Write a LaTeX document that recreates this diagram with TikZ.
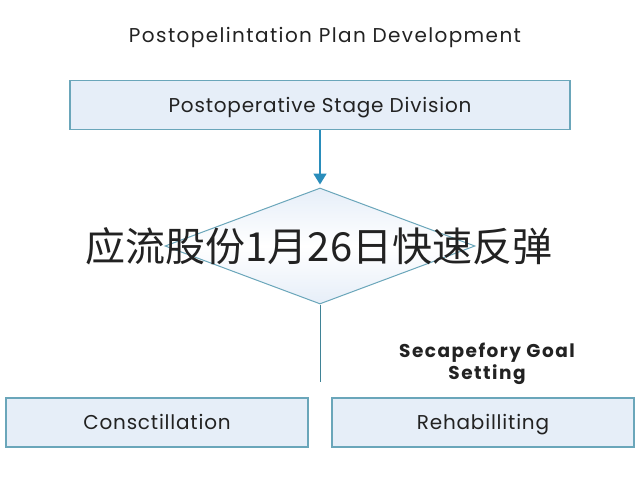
\documentclass[tikz,border=0pt]{standalone}
\usepackage{fontspec}
\setmainfont{Poppins}
\newfontfamily\cjk{Noto Sans CJK SC}
\usetikzlibrary{shapes.geometric,arrows.meta}
\definecolor{boxfill}{HTML}{E6EEF8}
\definecolor{boxline}{HTML}{6AA6BA}
\definecolor{arrowc}{HTML}{2A8DBB}
\definecolor{linec}{HTML}{3F8396}
\definecolor{txt}{HTML}{222222}
\begin{document}
\begin{tikzpicture}[x=1pt,y=-1pt]
\tikzset{
  box/.style={draw=boxline,fill=boxfill,line width=1.2pt,minimum height=49pt,inner sep=0pt,text height=14pt,text depth=0pt,font=\fontsize{20}{24}\selectfont\addfontfeature{LetterSpace=4},text=txt},
  lbl/.style={text=txt,inner sep=0pt}
}
\useasboundingbox[fill=white] (0,0) rectangle (640,480);
\node[lbl,text height=14pt,text depth=0pt,font=\fontsize{20}{24}\selectfont\addfontfeature{LetterSpace=7}] (title) at (325,35.7) {Postopelintation Plan Development};
\node[box,minimum width=500pt] (stage) at (320,105) {Postoperative Stage Division};
\node[diamond,draw=boxline,line width=1pt,top color=boxfill,bottom color=boxfill,middle color=white,minimum width=310pt,minimum height=116pt,inner sep=0pt] (dia) at (320,246) {};
\node[lbl,font=\cjk\fontsize{40}{44}\selectfont] (cn) at (319,246) {应流股份1月26日快速反弹};
\draw[arrowc,line width=1.8pt,-{Triangle[width=13pt,length=11pt]},shorten >=3pt] (stage.south) -- (dia.north);
\coordinate (lineend) at (320,382);
\draw[linec,line width=1pt] (dia.south) -- (lineend);
\node[lbl,font=\bfseries\fontsize{18.5}{22}\selectfont\addfontfeature{LetterSpace=8},align=center] (goal) at (487,364) {Secapefory Goal\\Setting};
\node[box,minimum width=302pt] (cons) at (157,422.5) {Consctillation};
\node[box,minimum width=302pt] (rehab) at (483,422.5) {Rehabilliting};
\end{tikzpicture}
\end{document}
